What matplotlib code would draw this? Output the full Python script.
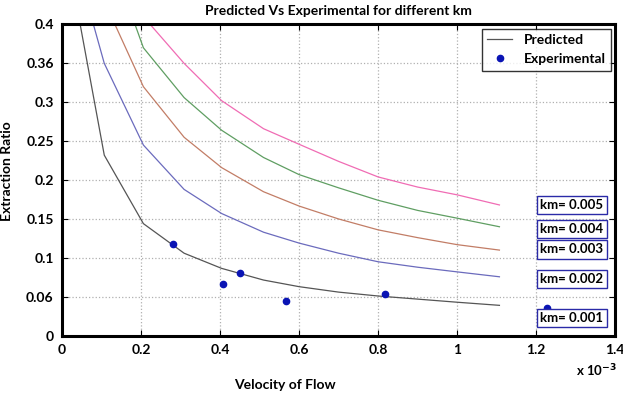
import matplotlib.pyplot as plt

# velocity of flow (x 1e-3)
velocity = [0.03, 0.107, 0.206, 0.309, 0.404, 0.51, 0.60, 0.70, 0.80, 0.90, 1.0, 1.107]

km_001 = [0.444, 0.232, 0.144, 0.106, 0.0865, 0.0715, 0.063, 0.056, 0.051, 0.047, 0.043, 0.039]
km_002 = [0.49, 0.35, 0.245, 0.188, 0.157, 0.133, 0.119, 0.106, 0.095, 0.088, 0.082, 0.0757]
km_003 = [0.62, 0.43, 0.32, 0.255, 0.216, 0.185, 0.1666, 0.15, 0.136, 0.126, 0.117, 0.110]
km_004 = [0.75, 0.51, 0.37, 0.306, 0.264, 0.229, 0.207, 0.19, 0.174, 0.161, 0.151, 0.140]
km_005 = [0.9, 0.6, 0.41, 0.35, 0.302, 0.266, 0.246, 0.224, 0.204, 0.191, 0.181, 0.168]

exp_velocity = [0.282, 0.408, 0.451, 0.567, 0.818, 1.227]
exp_ratio = [0.1177, 0.0663, 0.080, 0.0449, 0.0535, 0.0359]

km_labels = ["km= 0.005", "km= 0.004", "km= 0.003", "km= 0.002", "km= 0.001"]
km_label_y = [0.168, 0.137, 0.111, 0.0728, 0.0226]

yticks = [0, 0.05, 0.1, 0.15, 0.2, 0.25, 0.3, 0.35, 0.4]
ytick_labels = ["0", "0.06", "0.1", "0.15", "0.2", "0.25", "0.3", "0.36", "0.4"]
xticks = [0, 0.2, 0.4, 0.6, 0.8, 1.0, 1.2, 1.4]
xtick_labels = ["0", "0.2", "0.4", "0.6", "0.8", "1", "1.2", "1.4"]

plt.rcParams['font.family'] = ['Lato', 'DejaVu Sans']
plt.rcParams['font.weight'] = 'bold'

fig = plt.figure(figsize=(6.23, 3.94), dpi=100)
ax = fig.add_axes([0.0995, 0.148, 0.888, 0.790])

# predicted curves
ax.plot(velocity, km_001, color='#555555', lw=0.9, label="Predicted")
ax.plot(velocity, km_002, color='#6b6bbd', lw=0.9)
ax.plot(velocity, km_003, color='#c27d66', lw=0.9)
ax.plot(velocity, km_004, color='#5f9e62', lw=0.9)
ax.plot(velocity, km_005, color='#f06cb4', lw=0.9)

# experimental points
ax.plot(exp_velocity, exp_ratio, 'o', color='#0a14b4', ms=4.5, ls='none',
        label="Experimental", zorder=3)

for lbl, yy in zip(km_labels, km_label_y):
    ax.text(1.29, yy, lbl, ha='center', va='center', fontsize=9.5, fontweight='bold',
            zorder=5,
            bbox=dict(boxstyle='square,pad=0.25', facecolor='white',
                      edgecolor='#2a2aa8', lw=1.0))

ax.set_xlim(0, 1.4)
ax.set_ylim(0, 0.4)
ax.set_xticks(xticks)
ax.set_xticklabels(xtick_labels)
ax.set_yticks(yticks)
ax.set_yticklabels(ytick_labels)
ax.tick_params(direction='in', length=4, top=True, right=True, labelsize=10, pad=6)
ax.grid(True, linestyle=':', color='#b0b0b0', lw=0.9)
for sp in ax.spines.values():
    sp.set_linewidth(2.2)

ax.set_title("Predicted Vs Experimental for different km", fontsize=10, fontweight='bold', pad=7)
ax.set_xlabel("Velocity of Flow", fontsize=10, fontweight='bold')
ax.xaxis.set_label_coords(0.403, -0.14)
ax.set_ylabel("Extraction Ratio", fontsize=10, fontweight='bold')
ax.yaxis.set_label_coords(-0.088, 0.53)
fig.text(0.958, 0.06, r"x 10$^{-3}$", ha='center', va='center', fontsize=9.5, fontweight='bold')

leg = ax.legend(loc='upper right', fontsize=10, frameon=True, fancybox=False,
                edgecolor='black', handlelength=1.8, borderaxespad=0.3)
leg.get_frame().set_linewidth(1.0)

fig.savefig("out.png", dpi=100)
